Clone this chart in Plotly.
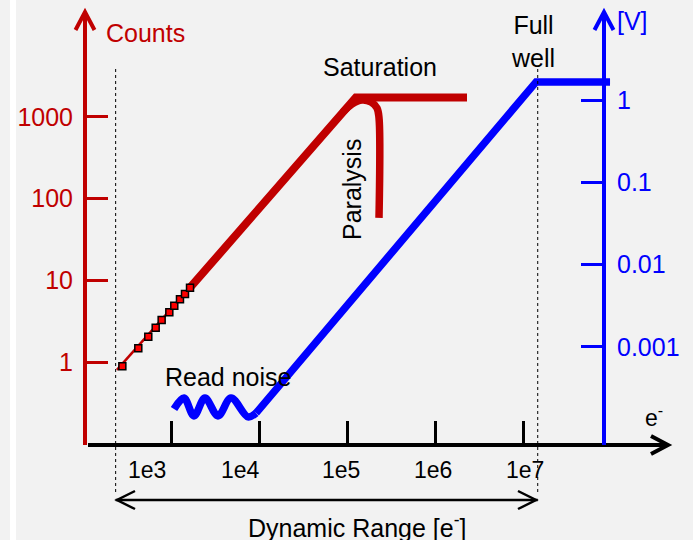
import math
import plotly.graph_objects as go

W, H = 693, 540

# ---------------- data ----------------
x_tick_vals = [1e3, 1e4, 1e5, 1e6, 1e7]
x_tick_text = ["1e3", "1e4", "1e5", "1e6", "1e7"]
count_tick_vals = [1, 10, 100, 1000]
count_tick_text = ["1", "10", "100", "1000"]
volt_tick_vals = [0.001, 0.01, 0.1, 1]
volt_tick_text = ["0.001", "0.01", "0.1", "1"]

# photon counting, low signal (measured points)
low_e = [280, 425, 552, 670, 783, 957, 1090, 1265, 1442, 1645]
low_counts = [0.89, 1.47, 2.04, 2.63, 3.27, 4.06, 4.89, 5.85, 6.80, 8.12]
low_fit_e = [243, 1645]
low_fit_counts = [0.80, 8.12]

# counting regime up to saturation
count_e = [1645, 1.26e5, 2.31e6]
count_counts = [8.12, 1730, 1730]

# paralysis branch
par_e = [9.0e4, 1.14e5, 1.48e5, 1.87e5, 2.19e5, 2.31e5, 2.31e5]
par_counts = [1148, 1439, 1610, 1522, 1285, 970, 58]

# integrating detector: read noise
noise_e = [1082, 1406, 1824, 2432, 3420, 4808, 7499, 9250]
noise_v = [1.76e-4, 2.39e-4, 1.45e-4, 2.39e-4, 1.45e-4, 2.39e-4, 1.41e-4, 1.57e-4]

# linear regime up to full well
volt_e = [9250, 1.41e7, 9.75e7]
volt_v = [1.57e-4, 1.66, 1.66]

# dynamic range limits
dyn_range_e = [235, 1.47e7]

# ---------------- style ----------------
RED = "#c00000"
BLUE = "#0000ff"
BLACK = "#000000"
BG = "#f2f2f2"
FONT = "Liberation Sans, Arial, sans-serif"


def px(x):
    return x / W


def py(y):
    return 1 - y / H


# axis geometry (pixels)
X_LEFT, X_RIGHT, X_LINE_Y = 88, 668, 445
Y_TOP = 12
RED_X, BLUE_X = 85, 604
# log-axis ranges derived from tick pixel positions
E_PX0, E_PER_DEC = 171, 88.0
C_PX0, C_PER_DEC = 362, 81.7
V_PX0, V_PER_DEC = 100, 82.3

x_range = [3 + (X_LEFT - E_PX0) / E_PER_DEC, 3 + (X_RIGHT - E_PX0) / E_PER_DEC]
c_range = [(C_PX0 - X_LINE_Y) / C_PER_DEC, (C_PX0 - Y_TOP) / C_PER_DEC]
v_range = [(V_PX0 - X_LINE_Y) / V_PER_DEC, (V_PX0 - Y_TOP) / V_PER_DEC]
y_domain = [py(X_LINE_Y), py(Y_TOP)]

fig = go.Figure()

fig.add_trace(go.Scatter(x=low_fit_e, y=low_fit_counts, mode="lines",
                         line=dict(color=RED, width=2.5), yaxis="y"))
fig.add_trace(go.Scatter(x=count_e, y=count_counts, mode="lines",
                         line=dict(color=RED, width=8), yaxis="y"))
fig.add_trace(go.Scatter(x=par_e, y=par_counts, mode="lines",
                         line=dict(color=RED, width=7.5, shape="spline"), yaxis="y"))
fig.add_trace(go.Scatter(x=low_e, y=low_counts, mode="markers",
                         marker=dict(symbol="square", size=7, color="#ff0000",
                                     line=dict(color=BLACK, width=1.5)), yaxis="y"))
fig.add_trace(go.Scatter(x=noise_e, y=noise_v, mode="lines",
                         line=dict(color=BLUE, width=7.5, shape="spline"), yaxis="y2"))
fig.add_trace(go.Scatter(x=volt_e, y=volt_v, mode="lines",
                         line=dict(color=BLUE, width=7.5), yaxis="y2"))

shapes = []
# white strip at left
shapes.append(dict(type="rect", xref="paper", yref="paper", x0=px(10), x1=px(16), y0=0, y1=1,
                   fillcolor="white", line=dict(width=0), layer="below"))
# dotted dynamic-range markers
for e in dyn_range_e:
    shapes.append(dict(type="line", xref="x", yref="paper", x0=e, x1=e,
                       y0=py(492), y1=py(67), line=dict(color=BLACK, width=1, dash="dot")))
# dynamic range double arrow
shapes.append(dict(type="line", xref="x", yref="paper", x0=dyn_range_e[0],
                   x1=dyn_range_e[1], y0=py(500), y1=py(500),
                   line=dict(color=BLACK, width=2.5)))


def chevron(pts, color, width):
    path = "M" + " L".join(f"{px(a):.5f},{py(b):.5f}" for a, b in pts)
    return dict(type="path", xref="paper", yref="paper", path=path,
                line=dict(color=color, width=width))


shapes.append(chevron([(135, 491), (117, 500), (135, 509)], BLACK, 2.5))
shapes.append(chevron([(518, 491), (536, 500), (518, 509)], BLACK, 2.5))
shapes.append(chevron([(651, 436), (668, 445), (651, 454)], BLACK, 4))
shapes.append(chevron([(75.5, 30), (85, 12), (94.5, 30)], RED, 4))
shapes.append(chevron([(594.5, 30), (604, 12), (613.5, 30)], BLUE, 4))

ann = []


def text(t, x, y, color=BLACK, size=25, **kw):
    d = dict(text=t, x=px(x), y=py(y), xref="paper", yref="paper", showarrow=False,
             font=dict(family=FONT, size=size, color=color), xanchor="center", yanchor="middle")
    d.update(kw)
    ann.append(d)


text("Counts", 104, 33, RED, xanchor="left")
text("[V]", 615, 21, BLUE, xanchor="left")
text("Saturation", 380, 67)
text("Full<br>well", 533, 41)
text("Paralysis", 352, 190, textangle=-90)
text("Read noise", 228, 377)
text("e<sup>-</sup>", 654, 416, size=23)
text("Dynamic Range [e<sup>-</sup>]", 357, 526)

x_label_shift = [-24, -19, -6, -2, 2]
for v, t, s in zip(x_tick_vals, x_tick_text, x_label_shift):
    ann.append(dict(text=t, x=math.log10(v), xref="x", y=py(470), yref="paper", xshift=s,
                    showarrow=False, font=dict(family=FONT, size=23, color=BLACK),
                    xanchor="center", yanchor="middle"))

fig.update_layout(
    width=W, height=H, autosize=False,
    margin=dict(l=0, r=0, t=0, b=0),
    paper_bgcolor=BG, plot_bgcolor=BG,
    showlegend=False,
    font=dict(family=FONT),
    shapes=shapes,
    annotations=ann,
    xaxis=dict(type="log", domain=[px(X_LEFT), px(X_RIGHT)], range=x_range,
               anchor="free", position=py(X_LINE_Y),
               showline=True, linecolor=BLACK, linewidth=4,
               ticks="inside", ticklen=22, tickwidth=2.5, tickcolor=BLACK,
               tickvals=x_tick_vals, showticklabels=False,
               showgrid=False, zeroline=False),
    yaxis=dict(type="log", domain=y_domain, range=c_range,
               anchor="free", position=px(RED_X), side="left",
               showline=True, linecolor=RED, linewidth=4,
               ticks="inside", ticklen=21, tickwidth=3, tickcolor=RED,
               tickvals=count_tick_vals, ticktext=count_tick_text,
               tickfont=dict(family=FONT, size=25, color=RED),
               ticklabelstandoff=5,
               showgrid=False, zeroline=False),
    yaxis2=dict(type="log", domain=y_domain, range=v_range, overlaying="y",
                anchor="free", position=px(BLUE_X), side="right",
                showline=True, linecolor=BLUE, linewidth=4,
                ticks="inside", ticklen=21, tickwidth=3, tickcolor=BLUE,
                tickvals=volt_tick_vals, ticktext=volt_tick_text,
                tickfont=dict(family=FONT, size=25, color=BLUE),
                ticklabelstandoff=6,
                showgrid=False, zeroline=False),
)

fig.write_html("out.html", config={"displayModeBar": False},
               post_script="document.body.style.margin='0px';")
